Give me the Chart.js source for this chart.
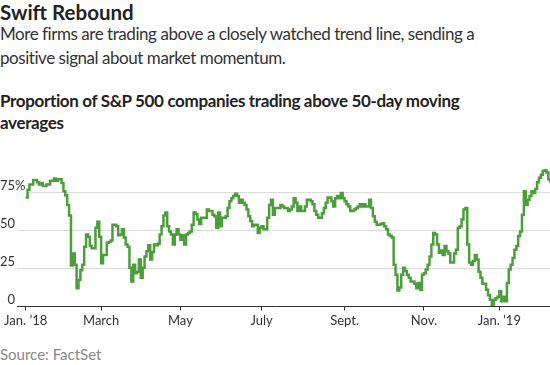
<!DOCTYPE html>
<html>
<head>
<meta charset="utf-8">
<script src="https://cdn.jsdelivr.net/npm/chart.js@4.4.1/dist/chart.umd.min.js"></script>
<style>
    body { margin: 0; background: #fff; width: 550px; height: 365px; position: relative; overflow: hidden; font-family: Lato, "Noto Sans", sans-serif; }
    .txt { position: absolute; left: 0; white-space: nowrap; }
    #title { top: 0; font-size: 20.5px; font-weight: 700; line-height: 24px; color: #222; }
    #subtitle { top: 22px; font-size: 17px; line-height: 23.5px; color: #333; letter-spacing: -0.45px; }
    #chartTitle { top: 90px; font-size: 17px; font-weight: 700; line-height: 22px; color: #222; letter-spacing: -0.35px; }
    #source { top: 345px; font-size: 15px; line-height: 18px; color: #888; }
    #chartBox { position: absolute; left: 0; top: 150px; width: 550px; height: 185px; }
</style>
</head>
<body>
<div id="title" class="txt">Swift Rebound</div>
<div id="subtitle" class="txt">More firms are trading above a closely watched trend line, sending a<br>positive signal about market momentum.</div>
<div id="chartTitle" class="txt">Proportion of S&amp;P 500 companies trading above 50-day moving<br>averages</div>
<div id="chartBox"><canvas id="lineChart" width="550" height="185"></canvas></div>
<div id="source" class="txt">Source: FactSet</div>

<script>
// Trading session index (0 = Jan. 2, 2018) and % of S&P 500 members above their 50-day average
const sessions = [
    0, 1, 2, 4, 6, 7, 8, 9, 11, 13, 15, 16, 17, 19, 20, 21, 22, 23, 24, 25,
    26, 27, 28, 29, 30, 31, 32, 33, 34, 35, 37, 38, 39, 40, 41, 43, 44, 45, 46, 48,
    49, 50, 51, 52, 53, 54, 55, 56, 57, 58, 59, 60, 61, 62, 63, 64, 65, 66, 67, 68,
    69, 70, 71, 72, 73, 74, 75, 76, 77, 78, 79, 80, 81, 82, 83, 84, 85, 86, 87, 88,
    89, 90, 91, 92, 93, 96, 97, 99, 100, 101, 102, 103, 104, 106, 107, 108, 109, 110, 111, 112,
    113, 114, 115, 116, 117, 118, 119, 120, 121, 123, 124, 125, 126, 128, 129, 130, 131, 132, 135, 136,
    137, 139, 140, 141, 142, 143, 144, 145, 146, 148, 149, 151, 152, 153, 154, 155, 157, 158, 159, 160,
    162, 163, 164, 165, 166, 167, 168, 169, 170, 171, 172, 174, 175, 176, 177, 178, 179, 180, 182, 183,
    184, 185, 186, 188, 189, 190, 191, 192, 193, 194, 195, 196, 197, 198, 199, 200, 201, 202, 203, 204,
    206, 207, 208, 209, 210, 211, 212, 213, 214, 215, 216, 217, 218, 219, 220, 221, 222, 223, 224, 225,
    227, 228, 229, 230, 231, 232, 233, 234, 235, 236, 237, 238, 239, 240, 241, 242, 244, 245, 246, 247,
    248, 249, 250, 251, 252, 253, 254, 255, 256, 257, 258, 259, 260, 261, 262, 263, 264, 265, 266, 267,
    268, 269, 270, 271, 272, 273, 274, 275, 276, 277, 278
];
const shareAbove = [
    72, 77, 80.5, 83.5, 82, 80.5, 81.5, 79.5, 80.5, 83, 84.5, 83, 84, 81.5, 76, 73.5, 67, 60, 27, 35,
    27.5, 12, 17.5, 24, 27.5, 39.5, 47.5, 46, 40, 38.5, 52, 56, 46, 28.5, 34, 42, 42.5, 43.5, 54, 53,
    47, 47.5, 51, 45.5, 41, 39.5, 25.5, 16.5, 27.5, 22, 23, 31, 19, 25.5, 33, 36.5, 40.5, 31, 36, 41,
    40.5, 41.5, 47.5, 53, 60, 62, 53, 49.5, 47.5, 41, 47.5, 51, 47.5, 44, 47, 41, 47.5, 48.5, 49.5, 54,
    62, 61, 57.5, 54.5, 58.5, 64, 63, 60.5, 59.5, 52, 62, 53, 58.5, 59.5, 65, 69.5, 71.5, 73, 74.5, 73,
    68.5, 70.5, 68.5, 67, 64, 59.5, 56.5, 53, 54, 48.5, 52, 53, 51, 58.5, 67, 70.5, 60.5, 65, 67, 66,
    65, 63, 64, 66, 71.5, 68.5, 63, 66, 63, 66, 70.5, 69.5, 67.5, 63, 60.5, 58.5, 61.5, 65, 68.5, 72,
    69.5, 66, 71.5, 73, 71.5, 75, 71.5, 69.5, 67.5, 66, 63, 64, 65, 66, 67.5, 66, 67.5, 66, 70.5, 65,
    59.5, 56, 54, 54.5, 55, 53, 51, 47.5, 46.5, 45.5, 27.5, 21, 10.5, 12.5, 21, 25.5, 23.5, 21, 19, 16.5,
    15, 12, 15.5, 11, 21, 22, 24.5, 27.5, 33, 41, 48.5, 47.5, 41, 35.5, 37, 34, 40, 36.5, 35, 29,
    35, 37.5, 52, 53, 57.5, 64, 65, 41, 29, 27.5, 30, 34, 31, 23, 19, 15, 11, 7.5, 4.5, 1,
    4.5, 5.5, 6.5, 10, 3.5, 6.5, 3.5, 15.5, 24.5, 27.5, 32, 37.5, 40, 46.5, 49.5, 60.5, 76, 67, 70.5, 73,
    76, 75, 77.5, 82, 85, 87, 89.5, 90, 88.5, 84, 81.5
];

// First session of each labelled month
const tickSessions = [0, 40, 82, 125, 169, 211, 251];
const tickLabels = ["Jan. \u201918", "March", "May", "July", "Sept.", "Nov.", "Jan. \u201919"];
const yTicks = [0, 25, 50, 75];

const lineColor = "#4c9e3b";
const inkColor = "#333";
const gridColor = "#dcdcdc";

// ===============================
// Y labels sit on top of gridlines, boxed in white
// ===============================
const yLabelPlugin = {
    id: "yLabels",
    beforeDatasetsDraw(chart) {
        const ctx = chart.ctx;
        const y = chart.scales.y;
        ctx.save();
        ctx.font = "13px Lato, 'Noto Sans', sans-serif";
        ctx.textBaseline = "alphabetic";
        y.ticks.forEach(t => {
            const py = y.getPixelForValue(t.value);
            const num = String(t.value);
            const suffix = t.value === 75 ? "%" : "";
            const right = 15;
            const end = right + (suffix ? ctx.measureText(suffix).width : 0);
            ctx.fillStyle = "#fff";
            ctx.fillRect(0, py - 13, end + 2, 14);
            ctx.fillStyle = inkColor;
            ctx.textAlign = "right";
            ctx.fillText(num, right, py - 2.5);
            if (suffix) {
                ctx.textAlign = "left";
                ctx.fillText(suffix, right, py - 2.5);
            }
        });
        ctx.restore();
    }
};

function drawChart() {
    new Chart(document.getElementById("lineChart"), {
        type: "line",
        data: {
            datasets: [{
                data: sessions.map((s, i) => ({ x: s, y: shareAbove[i] })),
                borderColor: lineColor,
                borderWidth: 2.5,
                pointRadius: 0,
                stepped: true,
                fill: false
            }]
        },
        options: {
            responsive: false,
            animation: false,
            devicePixelRatio: 1,
            layout: { padding: { top: 5, bottom: 4.5, left: 0, right: 0 } },
            plugins: { legend: { display: false }, tooltip: { enabled: false } },
            scales: {
                x: {
                    type: "linear",
                    min: -13.6,
                    max: 277.85,
                    afterBuildTicks: s => { s.ticks = tickSessions.map(v => ({ value: v })); },
                    afterFit: s => { s.height = 24; },
                    grid: { drawOnChartArea: false, drawTicks: true, tickLength: 4, color: inkColor },
                    border: { display: true, color: inkColor, width: 1 },
                    ticks: {
                        autoSkip: false,
                        maxRotation: 0,
                        padding: 3,
                        color: inkColor,
                        font: { family: "Lato, 'Noto Sans', sans-serif", size: 13 },
                        callback: v => tickLabels[tickSessions.indexOf(v)] || ""
                    }
                },
                y: {
                    min: 0,
                    max: 100,
                    afterBuildTicks: s => { s.ticks = yTicks.map(v => ({ value: v })); },
                    afterFit: s => { s.width = 0; },
                    grid: {
                        drawTicks: false,
                        lineWidth: 1,
                        color: c => (c.tick && c.tick.value === 0) ? "rgba(0,0,0,0)" : gridColor
                    },
                    border: { display: false },
                    ticks: { display: false }
                }
            }
        },
        plugins: [yLabelPlugin]
    });
}

if (document.fonts && document.fonts.load) {
    Promise.all([
        document.fonts.load("13px Lato"),
        document.fonts.load("bold 16px Lato")
    ]).then(drawChart, drawChart);
} else {
    drawChart();
}
</script>
</body>
</html>
